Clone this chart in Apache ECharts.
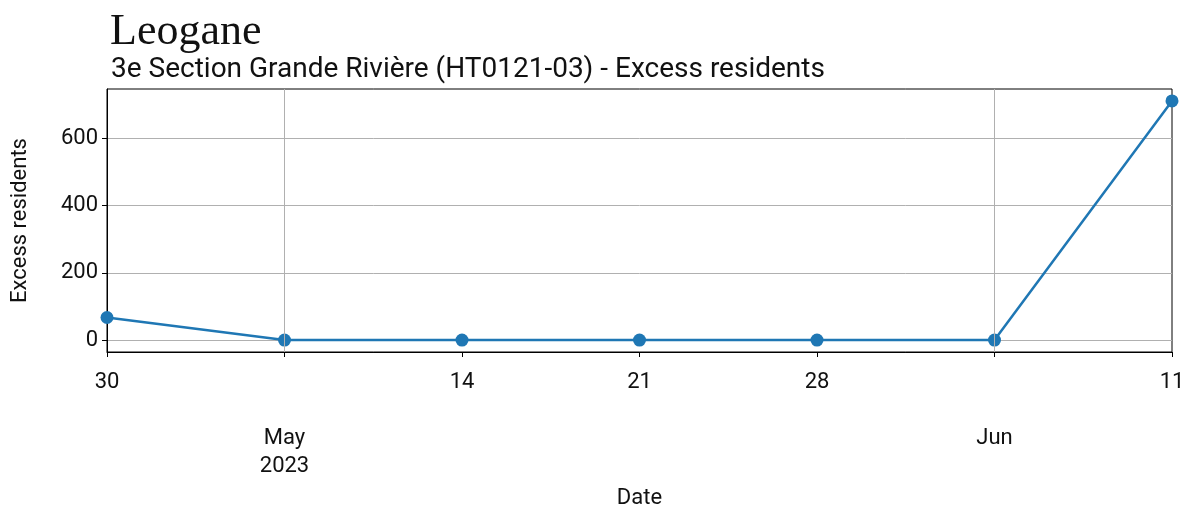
<!DOCTYPE html>
<html>
<head>
<meta charset="utf-8">
<script src="https://cdn.jsdelivr.net/npm/echarts@6/dist/echarts.min.js"></script>
<style>html,body{margin:0;padding:0;background:#fff}#c{width:1193px;height:510px}</style>
</head>
<body>
<div id="c"></div>
<script>
const titleText = 'Leogane';
const subtitleText = '3e Section Grande Rivière (HT0121-03) - Excess residents';
const dates = ['2023-04-30','2023-05-07','2023-05-14','2023-05-21','2023-05-28','2023-06-04','2023-06-11'];
const values = [67, 0, 0, 0, 0, 0, 711];
const dayLabels = ['30', '', '14', '21', '28', '', '11'];
const monthLabels = ['', 'May\n2023', '', '', '', 'Jun', ''];
const majorTickDates = ['2023-05-07', '2023-06-04'];
const yTicks = [0, 200, 400, 600];

const DAY = 86400000;
const t0 = Date.parse(dates[0]);
const off = d => Math.round((Date.parse(d) - t0) / DAY);
const xs = dates.map(off);
const xMax = xs[xs.length - 1];
const yMaxData = Math.max(...values), yMinData = Math.min(...values);
const pad = (yMaxData - yMinData) * 0.05;

const chart = echarts.init(document.getElementById('c'), null, {renderer: 'canvas'});
const font = 'Roboto';
const fs = 22;
chart.setOption({
  animation: false,
  backgroundColor: '#fff',
  title: [
    {text: titleText, left: 105, top: 5, textStyle: {fontFamily: 'Liberation Serif', fontWeight: 'normal', fontSize: 44, color: '#111'}},
    {text: subtitleText, left: 106, top: 51, textStyle: {fontFamily: font, fontWeight: 'normal', fontSize: 28, color: '#111'}}
  ],
  grid: {left: 107, right: 21, top: 89, bottom: 158, show: true, borderColor: '#000', borderWidth: 1,
         containLabel: false, outerBoundsMode: 'none'},
  xAxis: {
    type: 'value', min: 0, max: xMax, interval: 7,
    name: 'Date', nameLocation: 'middle', nameGap: 135,
    nameTextStyle: {fontFamily: font, fontSize: fs, color: '#111'},
    axisLine: {show: true, onZero: false, lineStyle: {color: '#000', width: 1}},
    axisTick: {show: true, length: 5, lineStyle: {color: '#000'}},
    splitLine: {show: false},
    axisLabel: {
      margin: 16, fontFamily: font, fontSize: fs, color: '#111', lineHeight: 28,
      showMinLabel: true, showMaxLabel: true, hideOverlap: false,
      formatter: v => {
        const i = xs.indexOf(Math.round(v));
        if (i < 0) return '';
        const m = monthLabels[i];
        return m ? '\n\n' + m : dayLabels[i];
      }
    }
  },
  yAxis: {
    type: 'value', min: yMinData - pad, max: yMaxData + pad, minInterval: 200, maxInterval: 200,
    name: 'Excess residents', nameLocation: 'middle', nameGap: 76,
    nameTextStyle: {fontFamily: font, fontSize: fs, color: '#111'},
    axisLine: {show: true, onZero: false, lineStyle: {color: '#000', width: 1}},
    axisTick: {show: true, length: 5, lineStyle: {color: '#000'}, customValues: yTicks},
    splitLine: {show: true, lineStyle: {color: '#b0b0b0', width: 1}},
    axisLabel: {
      margin: 9, fontFamily: font, fontSize: fs, color: '#111', customValues: yTicks,
      formatter: v => String(Math.round(v))
    }
  },
  series: [
    {
      type: 'line', data: [], z: 1, silent: true,
      markLine: {
        silent: true, symbol: ['none', 'none'], label: {show: false},
        lineStyle: {color: '#b0b0b0', width: 1, type: 'solid'},
        emphasis: {disabled: true},
        data: majorTickDates.map(d => ({xAxis: off(d)}))
      }
    },
    {
      type: 'line', z: 3,
      data: xs.map((x, i) => [x, values[i]]),
      symbol: 'circle', symbolSize: 13,
      lineStyle: {color: '#1f77b4', width: 2.5},
      itemStyle: {color: '#1f77b4'},
      clip: false
    }
  ]
});
</script>
</body>
</html>
